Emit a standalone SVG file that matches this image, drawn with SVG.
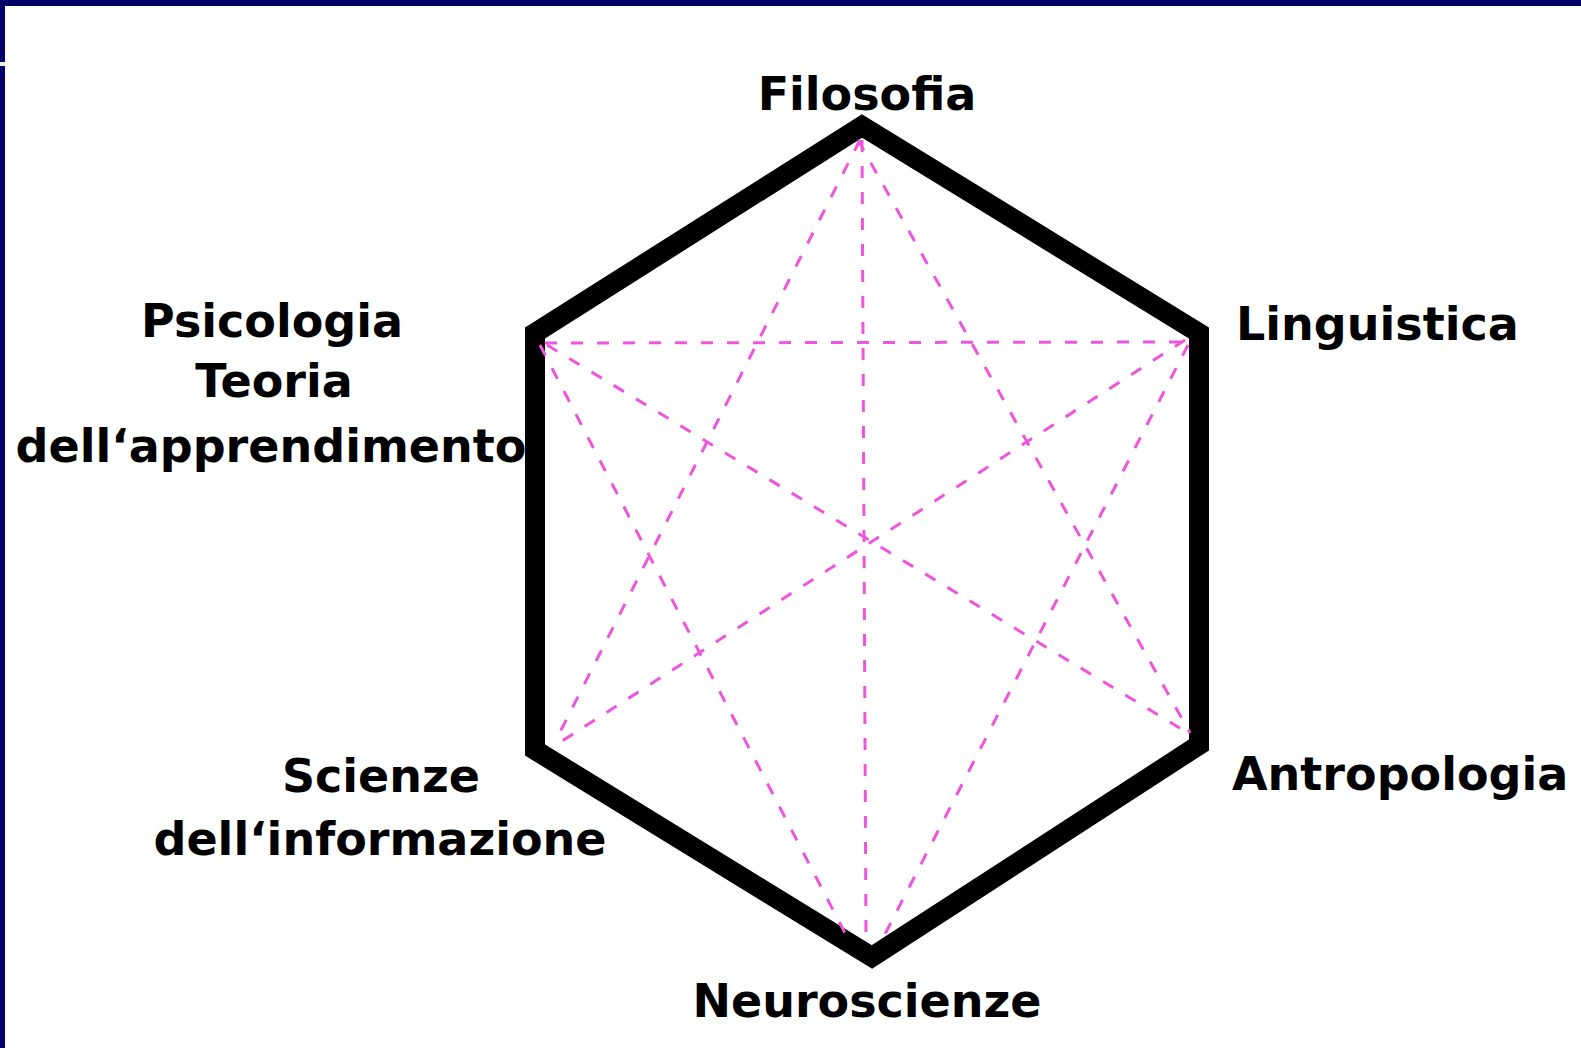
<svg xmlns="http://www.w3.org/2000/svg" width="1581" height="1048" viewBox="0 0 1581 1048">
<style>
.lbl{font-family:"DejaVu Sans","Liberation Sans",sans-serif;font-weight:bold;font-size:46px;fill:#000}
.mid{text-anchor:middle}
.dash{stroke:#ee55dd;stroke-width:3;stroke-dasharray:12 14;fill:none}
.hex{fill:none;stroke:#000;stroke-width:20;stroke-linejoin:miter;stroke-miterlimit:10}
</style>
<rect x="0" y="0" width="1581" height="1048" fill="#fff"/>
<g id="frame">
<rect x="0" y="0" width="1581" height="6" fill="#000066"/>
<rect x="0" y="0" width="5" height="1048" fill="#000066"/>
<rect x="0" y="62" width="5" height="4" fill="#f2eed2"/>
</g>
<g id="hexagon">
<polygon class="hex" points="862,126 1199,333 1199,745 872,957 535,750 535,333"/>
</g>
<g id="connectors">
<line class="dash" x1="545" y1="343" x2="1185" y2="342"/>
<line class="dash" x1="862" y1="140" x2="866" y2="938"/>
<line class="dash" x1="860" y1="140" x2="555" y2="742"/>
<line class="dash" x1="858" y1="140" x2="1190" y2="733"/>
<line class="dash" x1="540" y1="345" x2="846" y2="935"/>
<line class="dash" x1="1188" y1="345" x2="882" y2="940"/>
<line class="dash" x1="547" y1="345" x2="1188" y2="733"/>
<line class="dash" x1="1185" y1="340" x2="556" y2="745"/>
</g>
<g id="filosofia"><text class="lbl mid" x="867" y="110">Filosofia</text></g>
<g id="linguistica"><text class="lbl" x="1236" y="340">Linguistica</text></g>
<g id="psicologia">
<text class="lbl mid" x="272" y="337">Psicologia</text>
<text class="lbl mid" x="274" y="397">Teoria</text>
<text class="lbl mid" x="271" y="462">dell‘apprendimento</text>
</g>
<g id="scienze">
<text class="lbl mid" x="381" y="792">Scienze</text>
<text class="lbl mid" x="380" y="855">dell‘informazione</text>
</g>
<g id="antropologia"><text class="lbl" x="1232" y="790">Antropologia</text></g>
<g id="neuroscienze"><text class="lbl mid" x="867" y="1017">Neuroscienze</text></g>
</svg>
